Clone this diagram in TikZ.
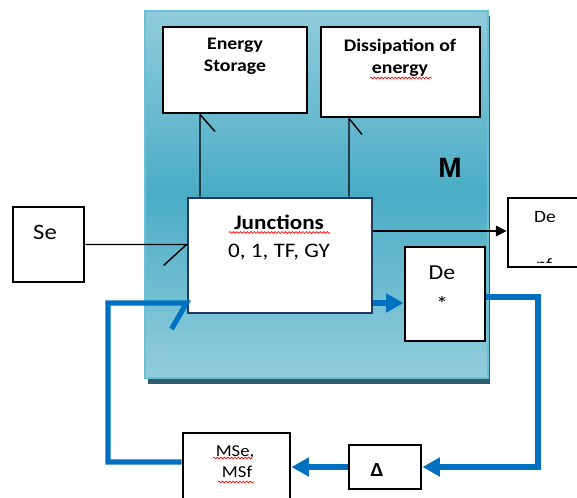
\documentclass[tikz,border=0pt]{standalone}
\usepackage{fontspec}
\setmainfont{Carlito}[FakeStretch=1.12]
\newfontfamily\arialfont{Liberation Sans}
\usetikzlibrary{arrows.meta,decorations.pathmorphing,calc}
\definecolor{mtop}{HTML}{8FCCDC}
\definecolor{mmid}{HTML}{4BACC6}
\definecolor{mbot}{HTML}{92CDDC}
\definecolor{mborder}{HTML}{6CBFD4}
\definecolor{mshadow}{HTML}{2E5E6C}
\definecolor{fbblue}{HTML}{0070C0}
\definecolor{jnavy}{HTML}{1F3A60}
\def\u{0.75pt}
\tikzset{
  blk/.style={draw=black, line width=2.2pt, fill=white, inner sep=0pt},
  thinline/.style={draw=black, line width=1.1pt},
  fbline/.style={draw=fbblue, line width=3.9pt},
  fbarrow/.style={fbline, -{Triangle[length=13pt,width=13.5pt]}},
  wavy/.style={draw=red, line width=0.5pt, decorate, decoration={snake, segment length=2.6pt, amplitude=0.7pt}},
  lbl/.style={inner sep=0pt, align=center, text=black}
}
\begin{document}
\begin{tikzpicture}[x=0.75pt, y=-0.75pt]
\clip (0,0) rectangle (577,497);
\fill[white] (0,0) rectangle (577,497);
% M container with shadow
\fill[mshadow] (148,16) rectangle (490,384);
\shade[top color=mtop, bottom color=mbot, middle color=mmid] (145,11) rectangle (488,378);
\node[draw=mborder, line width=1.2pt, minimum width=343*\u, minimum height=367*\u, inner sep=0pt] (mbox) at (316.5,194.5) {};
\node[lbl, font=\arialfont\bfseries\fontsize{21}{24}\selectfont] (mlabel) at (450,168) {M};
% boxes
\node[blk, minimum width=144*\u, minimum height=86*\u] (es) at (235,70) {};
\node[blk, minimum width=159*\u, minimum height=90*\u] (dis) at (400.5,72) {};
\node[blk, draw=jnavy, minimum width=184*\u, minimum height=115*\u] (jn) at (280,255.5) {};
\node[blk, minimum width=71*\u, minimum height=75*\u] (se) at (48.5,244.5) {};
\node[blk, minimum width=92*\u, minimum height=69*\u] (der) at (554,232.5) {};
\node[blk, minimum width=80*\u, minimum height=94*\u] (des) at (445,294) {};
\node[blk, minimum width=107*\u, minimum height=87*\u] (mse) at (236.5,476.5) {};
\node[blk, minimum width=72*\u, minimum height=44*\u] (del) at (385,467) {};
% texts
\node[lbl, font=\bfseries\fontsize{13.25}{16.5}\selectfont] (estext) at (235,56) {Energy\\Storage};
\node[lbl, font=\bfseries\fontsize{13.25}{16.5}\selectfont] (distext) at (400,58) {Dissipation of\\energy};
\draw[wavy] (370,78) -- (432,78);
\node[lbl, font=\bfseries\fontsize{15.5}{18}\selectfont] (jntext) at (279,222) {Junctions};
\draw[wavy] (229,232.5) -- (330,232.5);
\node[lbl, font=\fontsize{15.5}{18}\selectfont] (jntext2) at (279,252) {0, 1, TF, GY};
\node[lbl, font=\fontsize{16.5}{20}\selectfont] (setext) at (45,232) {Se};
\node[lbl, font=\fontsize{13}{15}\selectfont] (dertext) at (545,217) {De};
\begin{scope}
\clip (520,250) rectangle (570,262);
\node[lbl, font=\fontsize{13}{15}\selectfont] (dertext2) at (544,265) {nf};
\end{scope}
\node[lbl, font=\fontsize{16}{19}\selectfont] (destext) at (442,273) {De};
\node[lbl, font=\fontsize{16}{19}\selectfont] (destext2) at (442,304) {*};
\node[lbl, font=\fontsize{12.5}{15.75}\selectfont] (msetext) at (235,462) {MSe,\\\ MSf};
\draw[wavy] (213,458) -- (252,458);
\draw[wavy] (218,482) -- (254,482);
\node[lbl, font=\bfseries\fontsize{15}{18}\selectfont] (deltext) at (377,470) {Δ};
% black connectors
\coordinate (c1) at (200,0);
\coordinate (c2) at (349,0);
\draw[thinline] (c1 |- jn.north) -- (c1 |- es.south) -- ++(15,17);
\draw[thinline] (c2 |- jn.north) -- (c2 |- dis.south) -- ++(13,16);
\draw[thinline] (se.east) -- (se.east -| jn.west) -- ++(-23,21);
\coordinate (c3) at (0,231);
\draw[thinline, -{Triangle[length=8pt,width=8pt]}] (c3 -| jn.east) -- (c3 -| der.west);
% blue feedback loop
\coordinate (c4) at (0,303);
\coordinate (c5) at (0,297);
\coordinate (c6) at (538,0);
\coordinate (c7) at (108,0);
\coordinate (c8) at (0,462);
\draw[fbarrow] (c4 -| jn.east) -- (c4 -| des.west);
\draw[fbarrow] (c5 -| des.east) -- (c6 |- c5) -- (c6 |- del.east) -- (del.east);
\draw[fbarrow] (del.west) -- (del.west -| mse.east);
\draw[fbline, line join=miter] (c8 -| mse.west) -- (c7 |- c8) -- (c7 |- c4) -- (c4 -| jn.west) -- ++(-15,26);
\end{tikzpicture}
\end{document}
